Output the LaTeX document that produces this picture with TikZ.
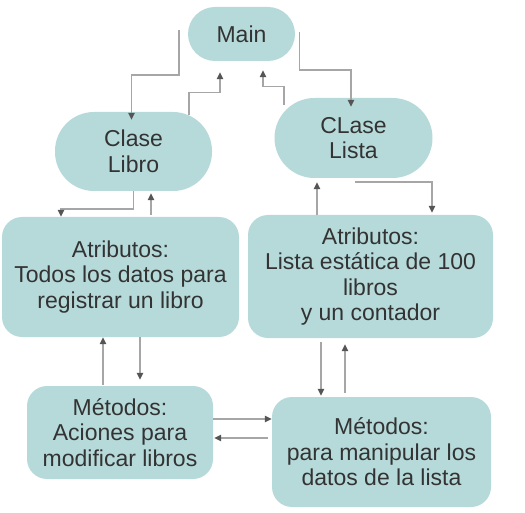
\documentclass[tikz,border=0pt]{standalone}
\usepackage{fontspec}
\setmainfont{Liberation Sans}
\usetikzlibrary{arrows.meta,calc,positioning}
\definecolor{tealbox}{HTML}{B6DADA}
\definecolor{linkgray}{HTML}{A6A6A6}
\definecolor{tipgray}{HTML}{555555}
\definecolor{textgray}{HTML}{333333}

\begin{document}
\begin{tikzpicture}[x=1pt,y=-1pt,
    box/.style={fill=tealbox,draw=none,align=center,inner sep=0pt,text=textgray,
        font=\fontsize{23}{25.5}\selectfont},
    link/.style={draw=linkgray,line width=1.4pt,
        -{Triangle[length=7pt,width=6.5pt,color=tipgray]}}]
        \useasboundingbox (0,0) rectangle (525,513);
        % clases
        \node[box,minimum width=107pt,minimum height=54pt,rounded corners=27pt] (main) at (241.5,34) {Main};
        \node[box,minimum width=157pt,minimum height=79pt,rounded corners=39pt] (libro) at (133.5,151.5) {Clase\\Libro};
        \node[box,minimum width=158pt,minimum height=80pt,rounded corners=40pt] (lista) at (353.5,138) {CLase\\Lista};
        % atributos
        \node[box,minimum width=237pt,minimum height=120pt,rounded corners=20pt] (atrlibro) at (120.5,277) {Atributos:\\Todos los datos para\\registrar un libro};
        \node[box,minimum width=245pt,minimum height=123pt,rounded corners=20pt] (atrlista) at (370.5,276.5) {Atributos:\\Lista estática de 100\\libros\\y un contador};
        % metodos
        \node[box,minimum width=186pt,minimum height=93pt,rounded corners=20pt] (metlibro) at (120,432.5) {Métodos:\\Aciones para\\modificar libros};
        \node[box,minimum width=219pt,minimum height=110pt,rounded corners=20pt] (metlista) at (381.5,452) {Métodos:\\para manipular los\\datos de la lista};
        % main <-> clases
        \draw[link] ([shift={(-9,-4)}]main.west) -- ++(0,45) -| ([shift={(-2,8)}]libro.north);
        \draw[link] ([shift={(55.5,3)}]libro.north) -- ++(0,-22) -| ([shift={(-21.5,11)}]main.south);
        \draw[link] ([shift={(-69.5,7)}]lista.north) -- ++(0,-18) -| ([shift={(21.5,9)}]main.south);
        \draw[link] ([shift={(4,-2)}]main.east) -- ++(0,38) -| ([shift={(-2.5,9)}]lista.north);
        % clases <-> atributos
        \draw[link] (libro.south) -- ++(0,18) -| ([shift={(-59.5,0)}]atrlibro.north);
        \draw[link] ([shift={(30.5,-2)}]atrlibro.north) -- ([shift={(17.5,2)}]libro.south);
        \draw[link] ([shift={(-53.5,0)}]atrlista.north) -- ([shift={(-36.5,4)}]lista.south);
        \draw[link] ([shift={(1.5,4)}]lista.south) -| ([shift={(61.5,-2)}]atrlista.north);
        % atributos <-> metodos
        \draw[link] ([shift={(-17,-1)}]metlibro.north) -- ([shift={(-17.5,0)}]atrlibro.south);
        \draw[link] ([shift={(19.5,0)}]atrlibro.south) -- ([shift={(20,-6)}]metlibro.north);
        \draw[link] ([shift={(-49.5,4)}]atrlista.south) -- ([shift={(-60.5,-1)}]metlista.north);
        \draw[link] ([shift={(-36.5,-4)}]metlista.north) -- ([shift={(-25.5,6)}]atrlista.south);
        % metodos <-> metodos
        \draw[link] ([shift={(0,-13.5)}]metlibro.east) -- ([shift={(0,-33)}]metlista.west);
        \draw[link] ([shift={(-4,-14)}]metlista.west) -- ([shift={(1,5.5)}]metlibro.east);
    \end{tikzpicture}
\end{document}
